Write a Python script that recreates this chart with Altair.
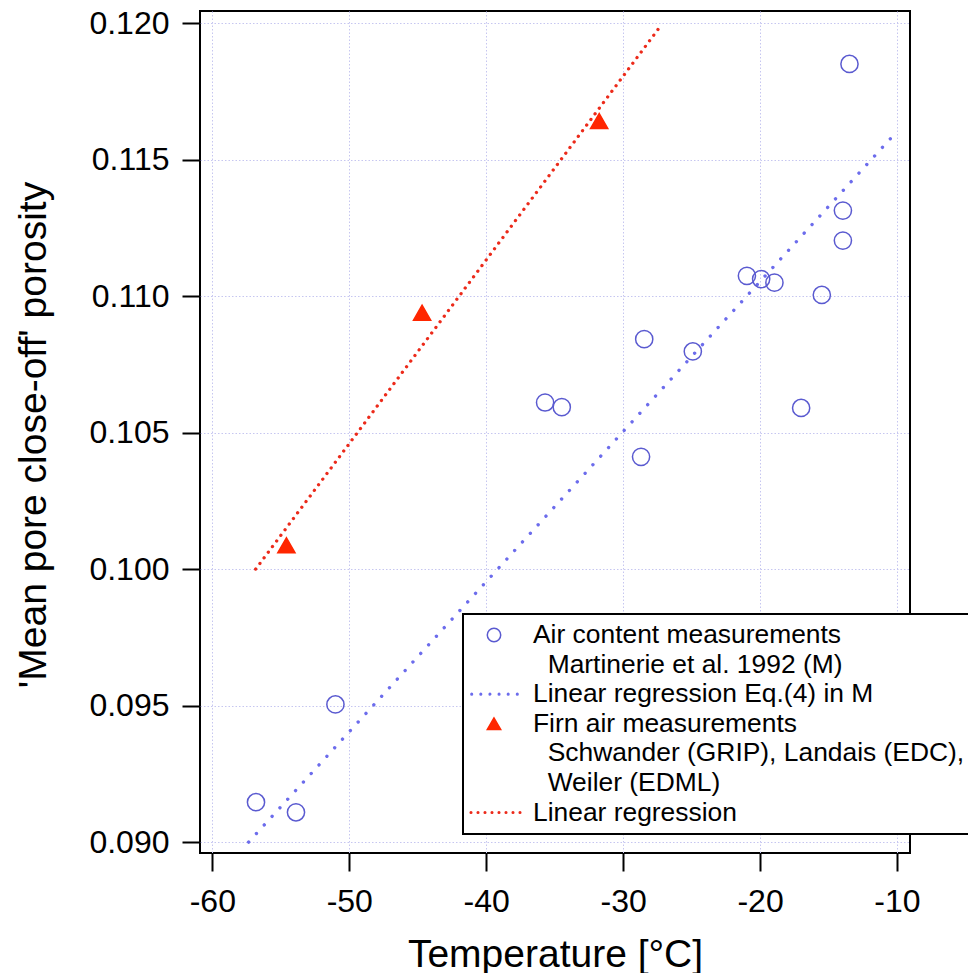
import json

import altair as alt
import pandas as pd

# Air content measurements, Martinerie et al. 1992 (M)
air_temp = [-13.47, -13.95, -13.95, -20.96, -19.92, -18.95, -15.49, -28.46,
            -24.91, -35.70, -34.48, -17.00, -28.69, -51.01, -56.81, -53.89]
air_por = [0.1185, 0.11313, 0.11203, 0.11074, 0.11062, 0.11049, 0.11004, 0.10842,
           0.10797, 0.10610, 0.10593, 0.10590, 0.10411, 0.09504, 0.09146, 0.09109]

# Firn air measurements: Schwander (GRIP), Landais (EDC), Weiler (EDML)
firn_temp = [-54.59, -44.68, -31.75]
firn_por = [0.10087, 0.10939, 0.11641]

# Linear regression Eq.(4) in M, drawn between its end points
m_fit_temp = [-57.35, -9.98]
m_fit_por = [0.0900, 0.11604]

# Linear regression through the firn air data
firn_fit_temp = [-56.83, -27.37]
firn_fit_por = [0.1000, 0.11982]

x_ticks = [-60, -50, -40, -30, -20, -10]
y_ticks = [0.090, 0.095, 0.100, 0.105, 0.110, 0.115, 0.120]

# indent for continuation lines (zero-width space keeps the padding from being trimmed)
INDENT = "\u200b" + "\u00a0" * 2
# one legend row per text line; continuation rows carry no symbol
legend_keys = ["air", "air_ref", "m_fit", "firn", "firn_ref1", "firn_ref2", "firn_fit"]
legend_text = {
    "air": "Air content measurements",
    "air_ref": INDENT + "Martinerie et al. 1992 (M)",
    "m_fit": "Linear regression Eq.(4) in M",
    "firn": "Firn air measurements",
    "firn_ref1": INDENT + "Schwander (GRIP), Landais (EDC),",
    "firn_ref2": INDENT + "Weiler (EDML)",
    "firn_fit": "Linear regression",
}

CIRCLE_BLUE = "#5a5ad0"
LINE_BLUE = "#6c6cec"
RED = "#ff2600"
LINE_RED = "#ec2a1a"
NONE = "transparent"
FONT = "Liberation Sans"

LEGEND_SYMBOL_SIZE = 180
UNIT = (LEGEND_SYMBOL_SIZE ** 0.5) / 2  # pixels per symbol-path unit


def dotted_path(start, step, count, r=0.12):
    """Short row of small dots, used as a legend swatch for a dotted line."""
    parts = []
    for i in range(count):
        c = (start + i * step) / UNIT
        parts.append(f"M{c - r:.3f},0a{r},{r} 0 1,0 {2 * r},0a{r},{r} 0 1,0 {-2 * r},0")
    return "".join(parts)


blue_swatch = dotted_path(-22.3, 9.12, 6)
red_swatch = dotted_path(-23.0, 7.0, 8)

color_scale = alt.Scale(
    domain=legend_keys,
    range=[CIRCLE_BLUE, NONE, LINE_BLUE, RED, NONE, NONE, LINE_RED],
)
shape_scale = alt.Scale(
    domain=legend_keys,
    range=["circle", "circle", blue_swatch, "triangle-up", "circle", "circle", red_swatch],
)
fill_scale = alt.Scale(
    domain=legend_keys,
    range=[NONE, NONE, LINE_BLUE, RED, NONE, NONE, LINE_RED],
)

label_expr = "".join(
    f"datum.value == '{k}' ? {json.dumps(legend_text[k], ensure_ascii=False)} : "
    for k in legend_keys
) + "datum.label"

legend = alt.Legend(
    title=None,
    orient="none",
    legendX=263,
    legendY=603,
    padding=7.75,
    symbolOffset=10.05,
    labelOffset=25.8,
    symbolSize=LEGEND_SYMBOL_SIZE,
    symbolStrokeWidth=1.5,
    labelFont=FONT,
    labelFontSize=26.4,
    labelColor="black",
    labelLimit=1000,
    rowPadding=2.6,
    labelExpr=label_expr,
    strokeColor="black",
    fillColor="white",
)

x_enc = alt.X(
    "temp:Q",
    scale=alt.Scale(domain=[-60.9, -9.05], nice=False, zero=False),
    axis=alt.Axis(
        values=x_ticks,
        title="Temperature [°C]",
        labelExpr="datum.value < 0 ? '-' + abs(datum.value) : '' + datum.value",
        labelPadding=15,
        titleY=113,
        titleBaseline="alphabetic",
    ),
)
y_enc = alt.Y(
    "por:Q",
    scale=alt.Scale(domain=[0.0896, 0.12044], nice=False, zero=False),
    axis=alt.Axis(
        values=y_ticks,
        format=".3f",
        title="'Mean pore close-off' porosity",
        labelPadding=13,
        titleX=-155,
        titleY=423.5,
        titleAngle=270,
        titleBaseline="alphabetic",
        titleAlign="center",
    ),
)

points_df = pd.DataFrame({
    "temp": air_temp + firn_temp,
    "por": air_por + firn_por,
    "series": ["air"] * len(air_temp) + ["firn"] * len(firn_temp),
})
m_fit_df = pd.DataFrame({"temp": m_fit_temp, "por": m_fit_por})
firn_fit_df = pd.DataFrame({"temp": firn_fit_temp, "por": firn_fit_por})

m_fit_line = alt.Chart(m_fit_df).mark_line(
    color=LINE_BLUE, strokeWidth=3.4, strokeDash=[0.01, 11.6], strokeCap="round"
).encode(x=x_enc, y=y_enc)

firn_fit_line = alt.Chart(firn_fit_df).mark_line(
    color=LINE_RED, strokeWidth=3.3, strokeDash=[0.01, 7.0], strokeCap="round"
).encode(x=x_enc, y=y_enc)

points = alt.Chart(points_df).mark_point(
    filled=False, size=296, strokeWidth=1.5, opacity=1
).encode(
    x=x_enc,
    y=y_enc,
    color=alt.Color("series:N", scale=color_scale, legend=legend),
    shape=alt.Shape("series:N", scale=shape_scale, legend=legend),
    fill=alt.Fill("series:N", scale=fill_scale, legend=legend),
)

chart = alt.layer(m_fit_line, firn_fit_line, points).properties(
    width=710,
    height=842,
    autosize=alt.AutoSizeParams(type="none"),
    padding={"left": 200, "top": 11, "right": 58, "bottom": 120},
).configure_view(
    stroke="black", strokeWidth=2
).configure_legend(
    strokeWidth=2
).configure_axis(
    domain=False,
    grid=True,
    gridColor="#c6c6f0",
    gridDash=[1.5, 2],
    gridWidth=1,
    ticks=True,
    tickColor="black",
    tickWidth=2,
    tickSize=18,
    labelFont=FONT,
    labelFontSize=32,
    labelColor="black",
    titleFont=FONT,
    titleFontSize=39,
    titleFontWeight="normal",
    titleColor="black",
)

chart.save("out.html", embed_options={"renderer": "svg", "actions": False})
